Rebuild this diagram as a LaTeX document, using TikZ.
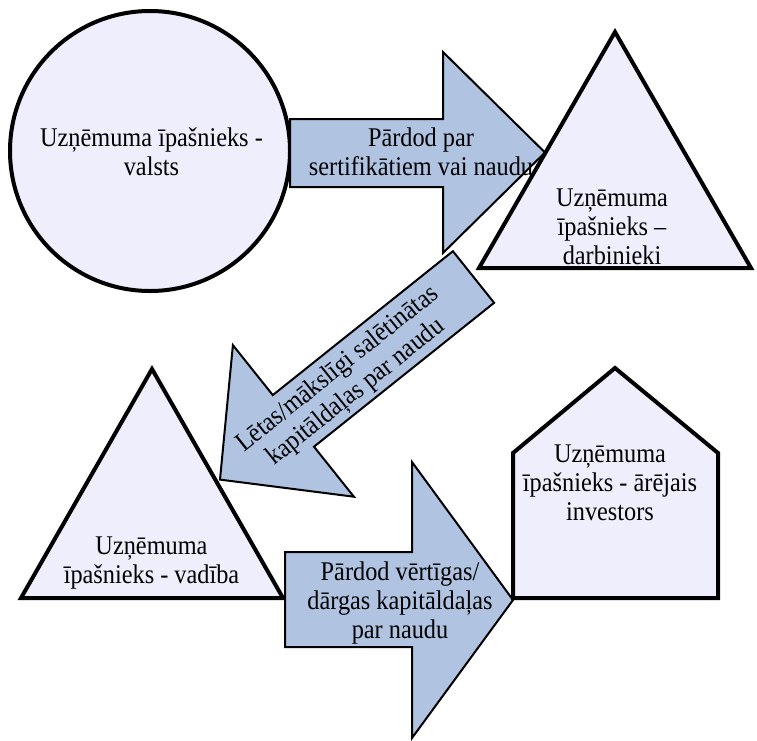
\documentclass[tikz,border=0pt]{standalone}
\usepackage{fontspec}
\setmainfont{Liberation Serif}[FakeStretch=0.9]
\definecolor{ownerfill}{RGB}{238,238,252}
\definecolor{arrowfill}{RGB}{176,196,226}
\definecolor{shadowfill}{RGB}{210,221,240}
\begin{document}
\begin{tikzpicture}[x=1pt,y=-1pt,
  owner/.style={draw=black,line width=4pt,fill=ownerfill,line join=miter},
  ownershadow/.style={fill=shadowfill,draw=none,shift={(8,8)}},
  blockarrow/.style={draw=black,line width=2pt,fill=arrowfill,line join=miter},
  label/.style={align=center,inner sep=0pt,font=\fontsize{27}{29}\selectfont}]
\useasboundingbox (0,0) rectangle (757,740);

% owner shapes: key points
\coordinate (state) at (150,151);
\coordinate (wTop) at (615,32);
\coordinate (wLeft) at (479,268);
\coordinate (wRight) at (751,268);
\coordinate (mTop) at (152,369);
\coordinate (mLeft) at (21,598);
\coordinate (mRight) at (283,598);
\coordinate (iTop) at (615,368);
\coordinate (iShL) at (513,453);
\coordinate (iShR) at (718,453);
\coordinate (iBL) at (513,598);
\coordinate (iBR) at (718,598);

% state (circle)
\fill[ownershadow] (state) circle (140);
\draw[owner] (state) circle (140);
\node[label] (tState) at (151.5,151.8) {Uzņēmuma īpašnieks -\\valsts};

% arrow: state -> workers
\draw[blockarrow] (290,119) -- (443,119) -- (443,52) -- (545,152.5)
  -- (443,253) -- (443,187) -- (290,187) -- cycle;
\node[label] (tSellCert) at (421,151.8) {Pārdod par\\sertifikātiem vai naudu};

% workers (triangle), drawn over the end of the arrow caption
\fill[ownershadow] (wTop) -- (wRight) -- (wLeft) -- cycle;
\draw[owner] (wTop) -- (wRight) -- (wLeft) -- cycle;
\node[label] (tWorkers) at (612,226.8) {Uzņēmuma\\īpašnieks –\\darbinieki};

% management (triangle)
\fill[ownershadow] (mTop) -- (mRight) -- (mLeft) -- cycle;
\draw[owner] (mTop) -- (mRight) -- (mLeft) -- cycle;
\node[label] (tMgmt) at (151.5,563.3) {Uzņēmuma\\īpašnieks - vadība};

% arrow: workers -> management (diagonal)
\draw[blockarrow] (452.9,251.2) -- (272.8,395.1) -- (232.9,345.1) -- (220,479.6)
  -- (353.9,496.7) -- (314,446.7) -- (494.1,302.8) -- cycle;
\node[label,rotate=38.6] (tCheap) at (347,381) {Lētas/mākslīgi salētinātas\\kapitāldaļas par naudu};

% arrow: management -> investor
\draw[blockarrow] (285,552) -- (412,552) -- (412,462) -- (513,600)
  -- (412,738) -- (412,647) -- (285,647) -- cycle;
\node[label] (tSellVal) at (400,602.75) {Pārdod vērtīgas/\\dārgas kapitāldaļas\\par naudu};

% external investor (house pentagon)
\fill[ownershadow] (iTop) -- (iShR) -- (iBR) -- (iBL) -- (iShL) -- cycle;
\draw[owner] (iTop) -- (iShR) -- (iBR) -- (iBL) -- (iShL) -- cycle;
\node[label] (tInvestor) at (610,482.8) {Uzņēmuma\\īpašnieks - ārējais\\investors};
\end{tikzpicture}
\end{document}
